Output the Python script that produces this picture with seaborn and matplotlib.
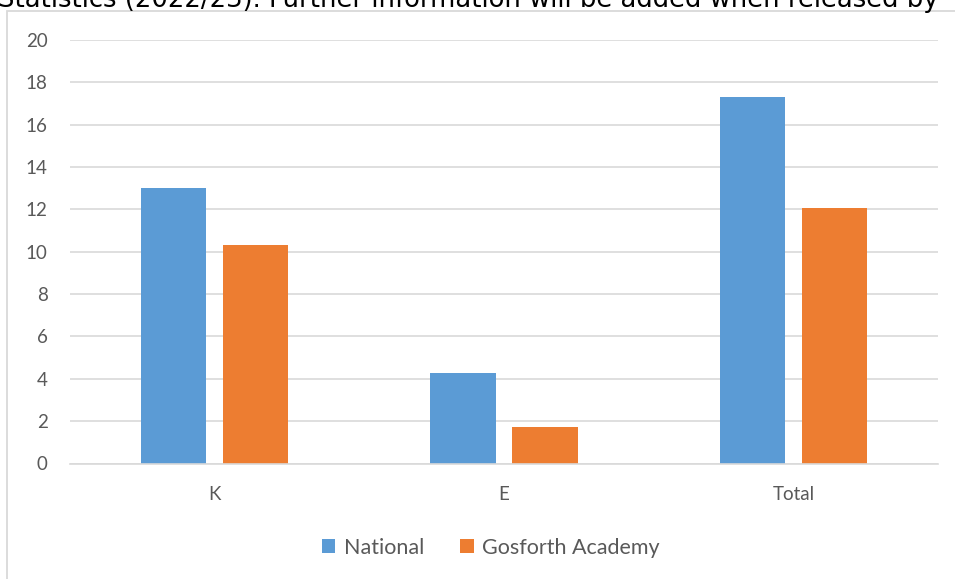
"""Grouped bar chart: National vs Gosforth Academy."""
import matplotlib
matplotlib.use("Agg")
import matplotlib.pyplot as plt
import pandas as pd
import seaborn as sns
from matplotlib.patches import Rectangle

categories = ["K", "E", "Total"]
national = [13.0, 4.28, 17.3]
gosforth = [10.3, 1.74, 12.05]
series_names = ["National", "Gosforth Academy"]
y_ticks = [0, 2, 4, 6, 8, 10, 12, 14, 16, 18, 20]
title_text = "Statistics (2022/23). Further information will be added when released by"

BLUE = "#5B9BD5"
ORANGE = "#ED7D31"
GRID = "#D9D9D9"
LABEL = "#595959"

df = pd.DataFrame({
    "category": categories * 2,
    "value": national + gosforth,
    "series": [series_names[0]] * 3 + [series_names[1]] * 3,
})

sns.set_style("white")
plt.rcParams["font.family"] = ["Lato", "DejaVu Sans"]

W, H = 955, 579
fig = plt.figure(figsize=(W / 100, H / 100), dpi=100)
ax = fig.add_axes([70 / W, 1 - 463.5 / H, (938 - 70) / W, (463.5 - 40) / H])

sns.barplot(data=df, x="category", y="value", hue="series", order=categories,
            hue_order=series_names, palette=[BLUE, ORANGE], width=0.567,
            gap=0.207, saturation=1, linewidth=0, ax=ax, legend=True)

ax.set_ylim(0, 20)
ax.set_xlim(-0.5, 2.5)
ax.set_yticks(y_ticks)
ax.yaxis.grid(True, color=GRID, linewidth=1.2)
ax.set_axisbelow(True)
for side in ["left", "right", "top"]:
    ax.spines[side].set_visible(False)
ax.spines["bottom"].set_color(GRID)
ax.spines["bottom"].set_linewidth(1.2)
ax.tick_params(axis="both", length=0, labelsize=13.5, labelcolor=LABEL)
ax.tick_params(axis="y", pad=16)
ax.tick_params(axis="x", pad=16)
ax.set_xlabel("")
ax.set_ylabel("")

handles, labels = ax.get_legend_handles_labels()
ax.get_legend().remove()
fig.legend(handles, labels, loc="center", bbox_to_anchor=(0.514, 1 - 548 / H),
           ncol=2, frameon=False, fontsize=15.5, handlelength=0.62,
           handleheight=0.62, handletextpad=0.4, columnspacing=1.7,
           labelcolor=LABEL)

# chart frame (cut off at the right and bottom in the original screenshot)
fig.patches.append(Rectangle((6.5 / W, -0.1), 1.2, 1.1 - 11 / H,
                             transform=fig.transFigure, fill=False,
                             edgecolor=GRID, linewidth=1.3))

# cut-off heading text above the chart, as in the screenshot
title = fig.text(-2 / W, 1 - 7 / H, title_text, family="DejaVu Sans",
                 fontsize=16, color="black", ha="left", va="baseline")
fig.canvas.draw()
width = title.get_window_extent().width
title.set_fontsize(16 * 945 / width)

fig.savefig("out.png", dpi=100)
